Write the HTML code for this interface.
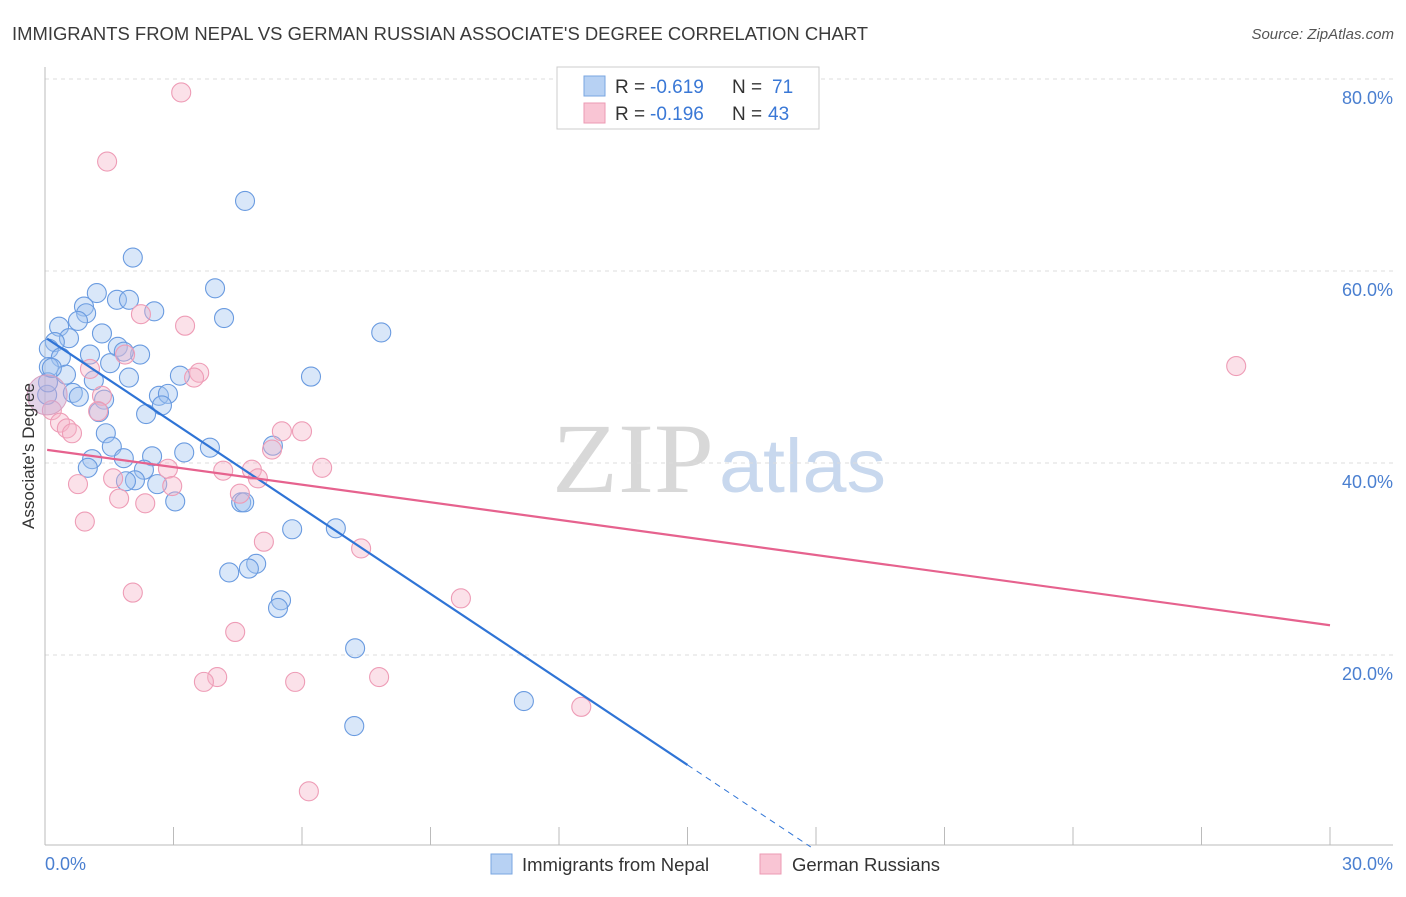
<!DOCTYPE html>
<html><head><meta charset="utf-8"><style>
body{margin:0;background:#fff;font-family:"Liberation Sans",sans-serif}
</style></head><body>
<svg id="chart" width="1406" height="892" viewBox="0 0 1406 892" xmlns="http://www.w3.org/2000/svg" font-family="Liberation Sans, sans-serif">
<text x="12" y="40" font-size="18" fill="#3a3a3a" textLength="856" lengthAdjust="spacingAndGlyphs">IMMIGRANTS FROM NEPAL VS GERMAN RUSSIAN ASSOCIATE'S DEGREE CORRELATION CHART</text>
<text x="1394" y="39" font-size="15" fill="#555" text-anchor="end" font-style="italic">Source: ZipAtlas.com</text>
<g>
<text x="552" y="492" style="font-family:'Liberation Serif',serif" font-size="100" fill="#d8d8d8" textLength="162" lengthAdjust="spacingAndGlyphs">ZIP</text>
<text x="719" y="492" font-size="76" fill="#c8d8ee" textLength="167" lengthAdjust="spacingAndGlyphs">atlas</text>
</g>
<g id="grid"></g>
<g id="axes"></g>
<g id="pts"></g>
<g id="trend"></g>
<text transform="translate(34,456) rotate(-90)" font-size="17" fill="#333" text-anchor="middle">Associate's Degree</text>
<g>
<rect x="557" y="67" width="262" height="62" fill="#fff" stroke="#ccc"/>
<rect x="584" y="76" width="21" height="20" fill="#b7d1f3" stroke="#7aa6e0"/>
<rect x="584" y="103" width="21" height="20" fill="#f9c5d4" stroke="#ec9ab3"/>
<text x="615" y="93" font-size="19" fill="#333">R =</text>
<text x="650" y="93" font-size="19" fill="#3a78d6">-0.619</text>
<text x="732" y="93" font-size="19" fill="#333">N =</text>
<text x="772" y="93" font-size="19" fill="#3a78d6">71</text>
<text x="615" y="120" font-size="19" fill="#333">R =</text>
<text x="650" y="120" font-size="19" fill="#3a78d6">-0.196</text>
<text x="732" y="120" font-size="19" fill="#333">N =</text>
<text x="768" y="120" font-size="19" fill="#3a78d6">43</text>
</g>
<g>
<rect x="491" y="854" width="21" height="20" fill="#b7d1f3" stroke="#7aa6e0"/>
<text x="522" y="871" font-size="18.5" fill="#333">Immigrants from Nepal</text>
<rect x="760" y="854" width="21" height="20" fill="#f9c5d4" stroke="#ec9ab3"/>
<text x="792" y="871" font-size="18.5" fill="#333">German Russians</text>
</g>
</svg>
<script>
const blueX=[4.67,2.05,1.21,3.97,1.68,1.96,0.91,0.96,2.55,0.77,4.18,0.33,1.33,7.85,0.56,0.23,1.70,0.09,1.05,0.37,2.22,1.52,1.84,0.09,0.49,6.21,3.15,1.96,1.14,0.65,2.66,0.79,2.87,1.38,2.73,1.26,2.36,1.42,1.56,3.85,5.32,3.25,1.10,1.84,2.50,1.00,2.31,2.10,1.89,2.62,3.04,4.58,4.65,5.77,6.79,4.93,4.30,4.76,5.51,5.44,7.24,11.18,7.22,0.05,0.07,0.16];
const blueY=[67.3,61.4,57.7,58.2,57.0,57.0,56.3,55.6,55.8,54.8,55.1,54.2,53.5,53.6,53.0,52.6,52.1,51.9,51.3,51.0,51.3,50.4,51.6,50.0,49.2,49.0,49.1,48.9,48.6,47.3,47.0,46.9,47.2,46.6,46.0,45.3,45.1,43.1,41.7,41.6,41.8,41.1,40.4,40.5,40.7,39.5,39.3,38.2,38.1,37.8,36.0,35.9,35.9,33.1,33.2,29.5,28.6,29.0,25.7,24.9,20.7,15.2,12.6,47.1,48.4,49.9];
const pinkX=[3.18,1.45,3.27,2.24,3.60,3.48,1.87,1.05,1.33,1.24,0.16,0.35,0.51,0.63,5.53,6.00,5.30,2.87,4.16,4.83,6.47,0.77,1.59,2.97,1.73,2.34,4.55,4.97,0.93,5.11,7.38,2.05,9.71,4.44,4.02,3.71,5.84,7.80,12.52,6.16,27.81];
const pinkY=[78.6,71.4,54.3,55.5,49.4,48.9,51.3,49.8,47.0,45.4,45.5,44.2,43.6,43.1,43.3,43.3,41.4,39.4,39.2,39.3,39.5,37.8,38.4,37.6,36.3,35.8,36.8,38.4,33.9,31.8,31.1,26.5,25.9,22.4,17.7,17.2,17.2,17.7,14.6,5.8,50.1];
const blueTrend=[53.1,-2.97];   // intercept, slope
const pinkTrend=[41.4,-0.61];
const yTicks=[20,40,60,80];
const yTickLabels=["20.0%","40.0%","60.0%","80.0%"];
const xTickVals=[0,3,6,9,12,15,18,21,24,27,30];
const NS="http://www.w3.org/2000/svg";
const X=v=>45+v/30*1285, Y=v=>847-v*9.6;
function mk(p,t,a){const e=document.createElementNS(NS,t);for(const k in a)e.setAttribute(k,a[k]);document.getElementById(p).appendChild(e);return e;}
yTicks.forEach((t,i)=>{
 const g=mk('grid','line',{x1:45,x2:1393,y1:Y(t),y2:Y(t),stroke:'#ddd','stroke-dasharray':'4,4'});
 
 
 const l=mk('axes','text',{x:1393,y:Y(t)+25,'font-size':18,fill:'#4a7fd0','text-anchor':'end'});
 l.textContent=yTickLabels[i];
 
 
});
mk('axes','line',{x1:45,x2:45,y1:67,y2:845,stroke:'#bbb'});
mk('axes','line',{x1:45,x2:1393,y1:845,y2:845,stroke:'#bbb'});
xTickVals.forEach(v=>{const t=mk('axes','line',{x1:X(v),x2:X(v),y1:827,y2:845,stroke:'#bbb'});
 
 });
const a=mk('axes','text',{x:45,y:870,'font-size':18,fill:'#4a7fd0'});a.textContent='0.0%';
const b=mk('axes','text',{x:1393,y:870,'font-size':18,fill:'#4a7fd0','text-anchor':'end'});b.textContent='30.0%';
blueX.forEach((x,i)=>{const c=mk('pts','circle',{cx:X(x),cy:Y(blueY[i]),r:9.5,fill:'rgba(160,196,240,0.4)',stroke:'#6a9be0','stroke-width':1.1});
 
 });
pinkX.forEach((x,i)=>{const c=mk('pts','circle',{cx:X(x),cy:Y(pinkY[i]),r:9.5,fill:'rgba(246,180,200,0.4)',stroke:'#ee9cb6','stroke-width':1.1});
 
 });
const big=mk('pts','circle',{cx:X(0.05),cy:Y(47.1),r:20,fill:'rgba(200,170,210,0.5)',stroke:'#d8a0c0'});


const bl=v=>blueTrend[0]+blueTrend[1]*v, pl=v=>pinkTrend[0]+pinkTrend[1]*v;
const l1=mk('trend','line',{x1:X(0.05),y1:Y(bl(0.05)),x2:X(15),y2:Y(bl(15)),stroke:'#2f74d6','stroke-width':2.2});


const x0=-blueTrend[0]/blueTrend[1];
const l2=mk('trend','line',{x1:X(15),y1:Y(bl(15)),x2:X(x0),y2:Y(0),stroke:'#2f74d6','stroke-width':1,'stroke-dasharray':'6,5'});


const l3=mk('trend','line',{x1:X(0.05),y1:Y(pl(0.05)),x2:X(30),y2:Y(pl(30)),stroke:'#e6628e','stroke-width':2.2});


</script>
</body></html>
